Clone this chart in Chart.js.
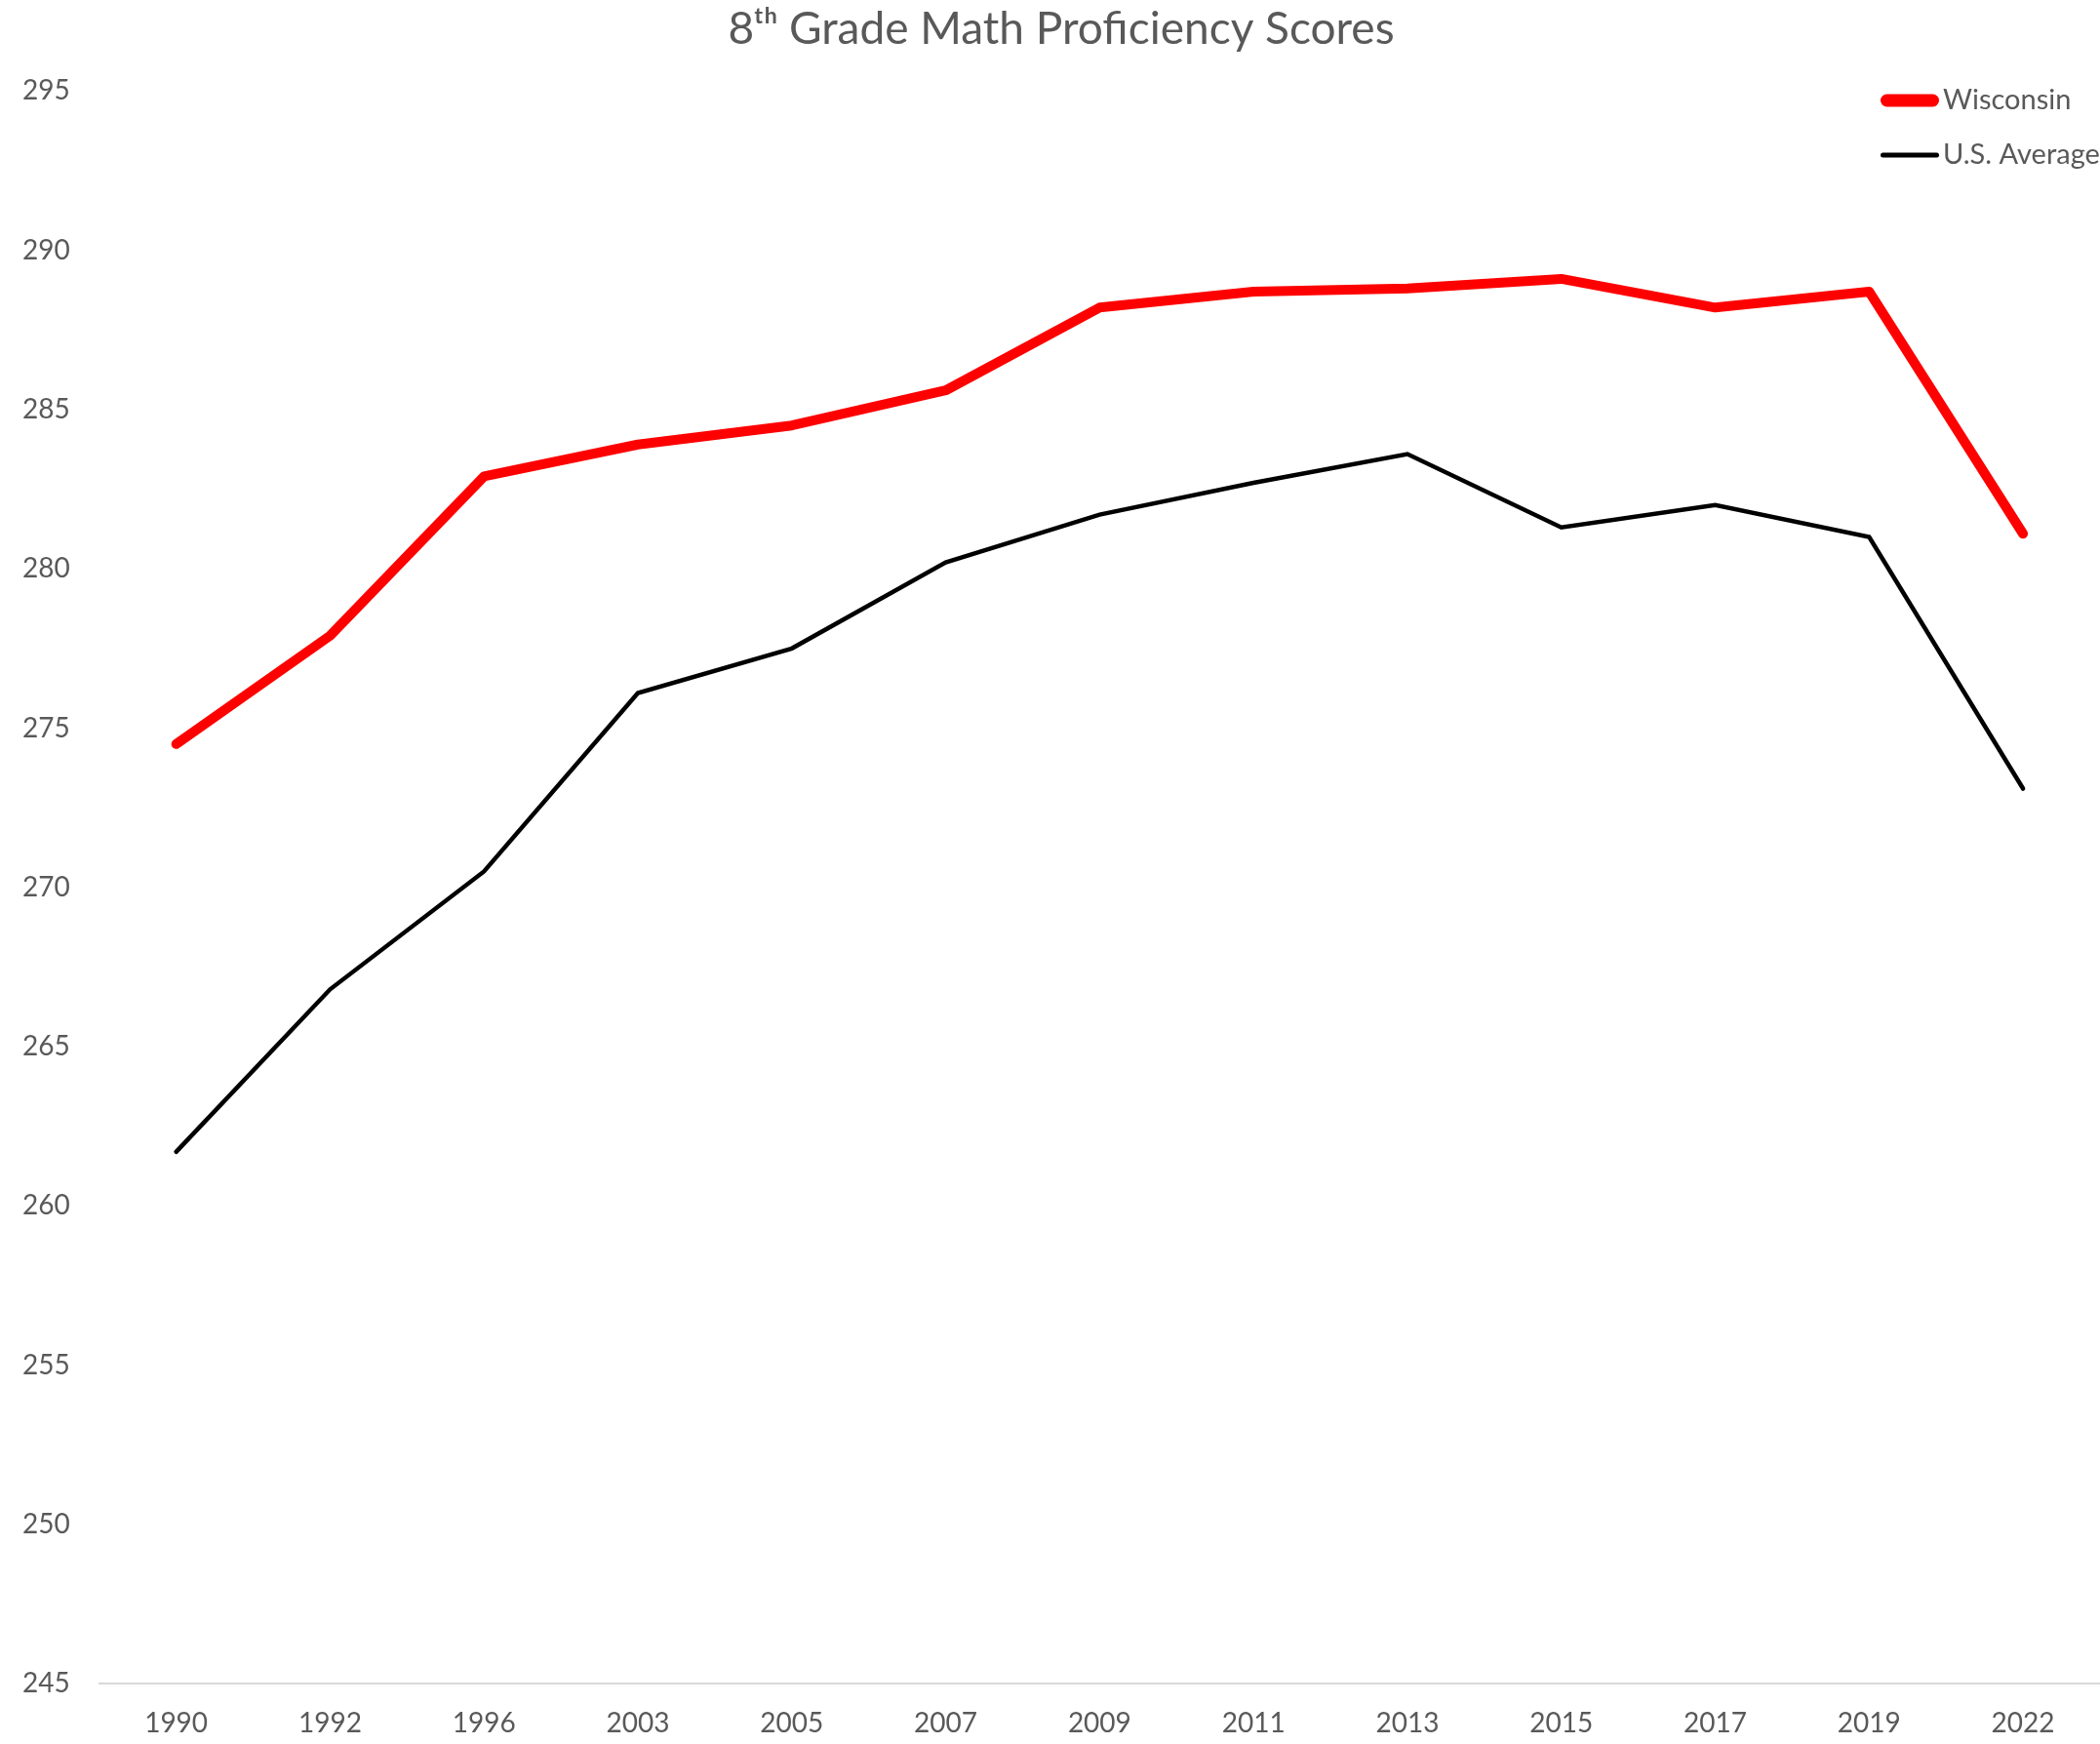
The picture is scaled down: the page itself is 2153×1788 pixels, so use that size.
<!DOCTYPE html>
<html>
<head>
<meta charset="utf-8">
<script src="https://cdn.jsdelivr.net/npm/chart.js@4.4.1/dist/chart.umd.min.js"></script>
<style>
  html, body { margin: 0; padding: 0; background: #fff; overflow: hidden; }
  #wrap { width: 2153px; height: 1788px; }
</style>
</head>
<body>
<div id="wrap"><canvas id="mathChart" width="2153" height="1788"></canvas></div>
<script>
// NAEP 8th grade math scores
const years = ['1990', '1992', '1996', '2003', '2005', '2007', '2009', '2011', '2013', '2015', '2017', '2019', '2022'];
const wisconsin = [274.5, 277.9, 282.9, 283.9, 284.5, 285.6, 288.2, 288.7, 288.8, 289.1, 288.2, 288.7, 281.1];
const usAverage = [261.7, 266.8, 270.5, 276.1, 277.5, 280.2, 281.7, 282.7, 283.6, 281.3, 282.0, 281.0, 273.1];
const yTicks = [245, 250, 255, 260, 265, 270, 275, 280, 285, 290, 295];

const FONT = 'Lato, "Open Sans", sans-serif';
const GREY = '#595959';

// legend drawn in the top-right corner over the plot, like the original
const cornerLegend = {
  id: 'cornerLegend',
  afterDraw(chart) {
    const ctx = chart.ctx;
    const x0 = chart.width - 225;
    let y = 103;
    ctx.save();
    ctx.font = '29px ' + FONT;
    ctx.textBaseline = 'middle';
    chart.data.datasets.forEach(ds => {
      ctx.strokeStyle = ds.borderColor;
      ctx.lineWidth = ds.legendWidth;
      ctx.lineCap = 'round';
      ctx.beginPath();
      ctx.moveTo(x0 + ds.legendWidth / 2, y);
      ctx.lineTo(x0 + 60 - ds.legendWidth / 2, y);
      ctx.stroke();
      ctx.fillStyle = GREY;
      ctx.fillText(ds.label, x0 + 64, y);
      y += 56;
    });
    ctx.restore();
  }
};

new Chart(document.getElementById('mathChart'), {
  type: 'line',
  data: {
    labels: years,
    datasets: [
      {
        label: 'Wisconsin',
        data: wisconsin,
        borderColor: '#ff0000',
        borderWidth: 10,
        legendWidth: 13,
        pointRadius: 0,
        borderCapStyle: 'round',
        borderJoinStyle: 'round',
        tension: 0
      },
      {
        label: 'U.S. Average',
        data: usAverage,
        borderColor: '#000000',
        borderWidth: 4.5,
        legendWidth: 5,
        pointRadius: 0,
        borderCapStyle: 'round',
        borderJoinStyle: 'miter',
        tension: 0
      }
    ]
  },
  options: {
    responsive: false,
    animation: false,
    layout: { padding: { left: 23, right: 0, top: 0, bottom: -20 } },
    plugins: {
      legend: { display: false },
      tooltip: { enabled: false },
      title: {
        display: true,
        text: '8ᵗʰ Grade Math Proficiency Scores',
        color: GREY,
        font: { family: FONT, size: 46, weight: 'normal' },
        padding: { top: 3, bottom: 35 }
      }
    },
    scales: {
      x: {
        offset: true,
        grid: { display: false, drawTicks: false },
        border: { display: true, color: '#d9d9d9', width: 2 },
        ticks: { color: GREY, font: { family: FONT, size: 28 }, padding: 24, maxRotation: 0 }
      },
      y: {
        min: 245,
        max: 295,
        afterBuildTicks: axis => { axis.ticks = yTicks.map(v => ({ value: v })); },
        grid: { display: false, drawTicks: false },
        border: { display: false },
        ticks: { color: GREY, font: { family: FONT, size: 28 }, padding: 15, crossAlign: 'far' }
      }
    }
  },
  plugins: [cornerLegend]
});
</script>
</body>
</html>
